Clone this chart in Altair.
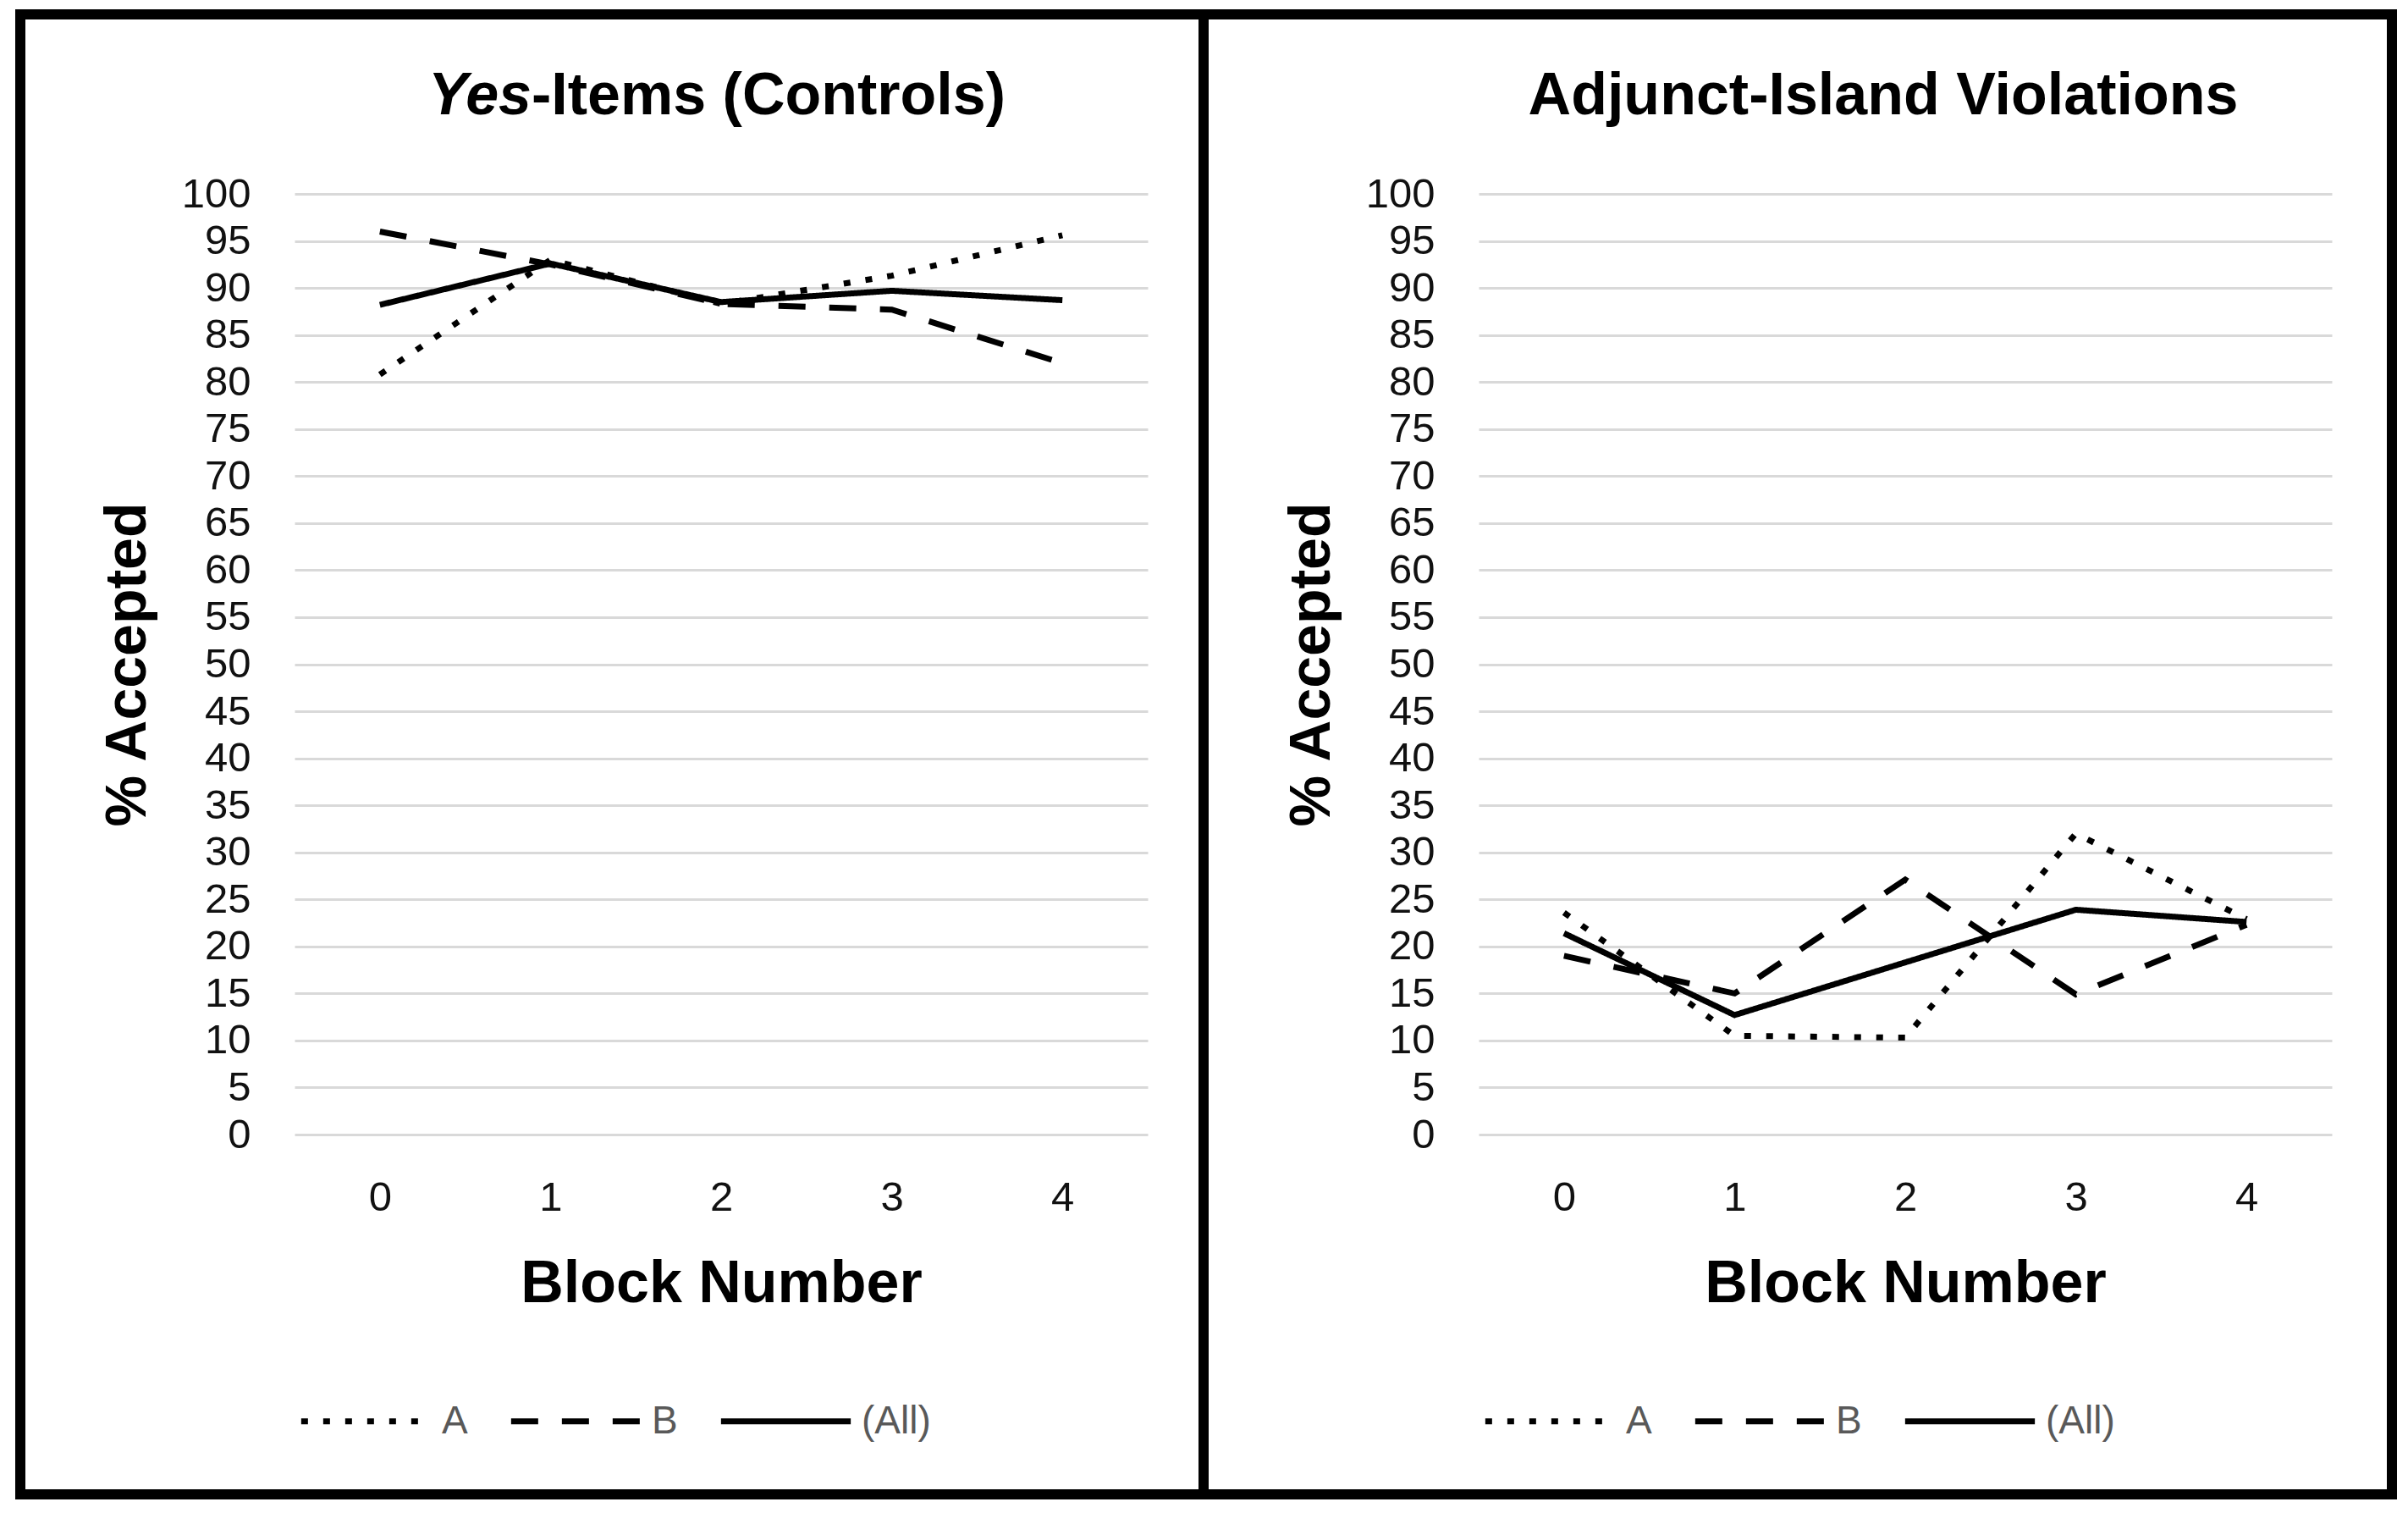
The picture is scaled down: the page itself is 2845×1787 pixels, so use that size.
import altair as alt
import pandas as pd

blocks = ["0", "1", "2", "3", "4"]
series = ["A", "B", "(All)"]

yes_A = [80.8, 93.0, 88.3, 91.3, 95.6]
yes_B = [96.0, 92.5, 88.3, 87.7, 82.0]
yes_All = [88.2, 92.6, 88.5, 89.7, 88.7]

adj_A = [23.6, 10.5, 10.3, 32.0, 22.9]
adj_B = [19.0, 15.0, 27.1, 14.9, 22.3]
adj_All = [21.4, 12.7, 18.3, 23.9, 22.6]

y_ticks = list(range(0, 101, 5))
dash_styles = [[8, 18], [32, 28], [1, 0]]

FONT = "Liberation Sans"
W, H = 1008, 1111


def frame(vals):
    rows = []
    for name, v in zip(series, vals):
        for b, y in zip(blocks, v):
            rows.append({"block": b, "series": name, "value": y})
    return pd.DataFrame(rows)


def panel(df, titles, box):
    one = pd.DataFrame({"k": [0]})
    border = alt.Chart(one).mark_rect(
        fill="transparent", stroke="black", strokeWidth=12
    ).encode(
        x=alt.value(box[0]), x2=alt.value(box[1]),
        y=alt.value(box[2]), y2=alt.value(box[3]),
    )
    lines = alt.Chart(df).mark_line(color="black", strokeWidth=7).encode(
        x=alt.X(
            "block:O", sort=blocks,
            scale=alt.Scale(type="point", padding=0.5),
            axis=alt.Axis(
                title="Block Number", labelAngle=0, domain=False, ticks=False,
                labelPadding=50, labelFont=FONT, labelFontSize=49,
                labelColor="#111111", titleFont=FONT, titleFontSize=70,
                titleFontWeight="bold", titleColor="black", titlePadding=43,
            ),
        ),
        y=alt.Y(
            "value:Q",
            scale=alt.Scale(domain=[0, 100], nice=False),
            axis=alt.Axis(
                values=y_ticks, title="% Accepted", domain=False, ticks=False,
                grid=True, gridColor="#d9d9d9", gridWidth=3,
                labelPadding=52, labelFont=FONT, labelFontSize=49,
                labelColor="#111111", titleFont=FONT, titleFontSize=68,
                titleFontWeight="bold", titleColor="black", titlePadding=29,
            ),
        ),
        strokeDash=alt.StrokeDash(
            "series:N", sort=series,
            scale=alt.Scale(domain=series, range=dash_styles),
            legend=alt.Legend(
                title=None, orient="none", legendX=4, legendY=1369,
                direction="horizontal", symbolType="stroke",
                symbolSize=23500, symbolStrokeWidth=7,
                symbolStrokeColor="black", labelFont=FONT,
                labelFontSize=46, labelColor="#595959", labelOffset=9,
                columnPadding=36,
            ),
        ),
    )
    layers = [border, lines]
    for text, x, align, style in titles:
        t = alt.Chart(one).mark_text(
            text=text, font=FONT, fontSize=70, fontWeight="bold",
            fontStyle=style, align=align, baseline="alphabetic", color="black",
        ).encode(x=alt.value(x), y=alt.value(-94))
        layers.append(t)
    return alt.layer(*layers).properties(width=W, height=H)


p1 = panel(
    frame([yes_A, yes_B, yes_All]),
    [("Yes", 280, "right", "italic"), ("-Items (Controls)", 280, "left", "normal")],
    (-324, 1074, -212, 1536),
)
p2 = panel(
    frame([adj_A, adj_B, adj_All]),
    [("Adjunct-Island Violations", 478, "center", "normal")],
    (-325, 1079, -212, 1536),
)

chart = (
    alt.hconcat(p1, p2, spacing=391, bounds="flush")
    .resolve_scale(strokeDash="independent")
    .resolve_legend(strokeDash="independent")
    .configure_view(stroke=None)
    .properties(padding={"left": 10, "top": 3, "right": 0, "bottom": 0},
                background="white")
)

chart.save("out.html", embed_options={"renderer": "svg", "actions": False})
